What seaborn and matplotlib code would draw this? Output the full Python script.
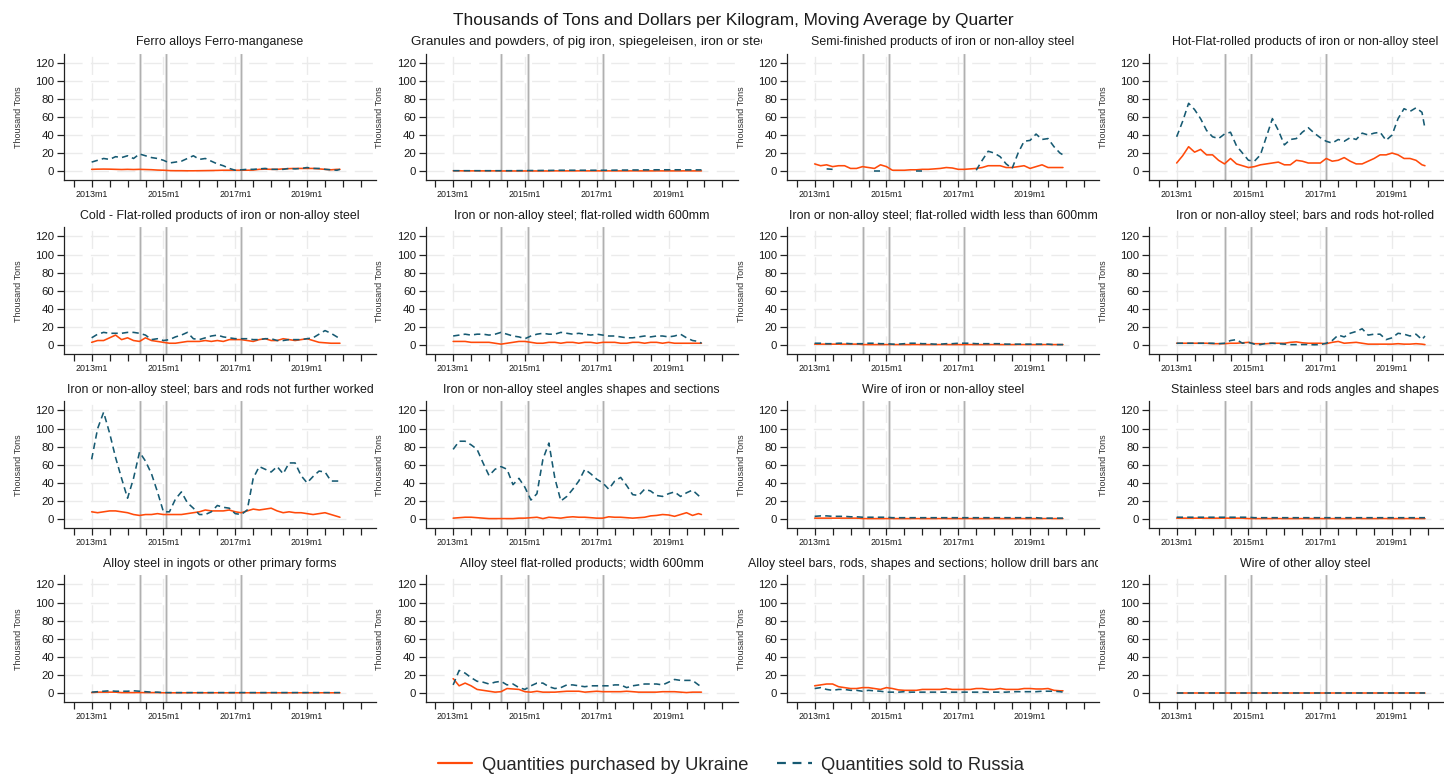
import numpy as np
import pandas as pd
import matplotlib
matplotlib.use("Agg")
import matplotlib.pyplot as plt
from matplotlib.lines import Line2D
from matplotlib.transforms import Bbox, TransformedBbox
import seaborn as sns

sns.set_theme(style="white")
plt.rcParams["font.family"] = ["Liberation Sans", "DejaVu Sans"]

# Observation months (offset from 2013m1): every second month, plus 2019m12
month_offsets = list(range(0, 84, 2)) + [83]

titles = [
    "Ferro alloys Ferro-manganese",
    "Granules and powders, of pig iron, spiegeleisen, iron or steel",
    "Semi-finished products of iron or non-alloy steel",
    "Hot-Flat-rolled products of iron or non-alloy steel",
    "Cold - Flat-rolled products of iron or non-alloy steel",
    "Iron or non-alloy steel; flat-rolled width 600mm",
    "Iron or non-alloy steel; flat-rolled width less than 600mm",
    "Iron or non-alloy steel; bars and rods hot-rolled",
    "Iron or non-alloy steel; bars and rods not further worked",
    "Iron or non-alloy steel angles shapes and sections",
    "Wire of iron or non-alloy steel",
    "Stainless steel bars and rods angles and shapes",
    "Alloy steel in ingots or other primary forms",
    "Alloy steel flat-rolled products; width 600mm",
    "Alloy steel bars, rods, shapes and sections; hollow drill bars and rods",
    "Wire of other alloy steel",
]
# titles too long for their box: start at the box's left edge and are cut at its right edge
long_titles = {1, 14}

nan = np.nan

# Thousand tons, quarterly moving average (one row per year, last value = 2019m12)
ukr_ferro_mn = [2, 2.2, 2.3, 2.2, 2, 1.8,  2, 1.8, 2, 1.8, 1.6, 1.2,  1, .6, .5, .5, .4, .4,
                .5, .6, .7, .8, 1, 1,  1, 1, 1, 1.2, 2, 2.2,  2, 2, 2.5, 2.8, 3, 3,  3, 3, 2.5, 2, 1.5, 2,  2]
rus_ferro_mn = [10, 12, 14, 13, 16, 15,  17, 14, 19, 17, 15, 14,  12, 9, 10, 11, 14, 17,
                13, 14, 11, 8, 6, 3,  1, 1.5, 2, 2, 2.5, 3,  2, 2, 2, 3, 2.5, 3,  4, 3, 3, 2, 1.5, 1,  2]

ukr_granules = [.4, .4, .3, .3, .3, .3,  .3, .3, .2, .2, .2, .2,  .2, .2, .2, .2, .2, .3,
                .3, .3, .3, .3, .3, .3,  .3, .3, .3, .3, .3, .3,  .3, .3, .3, .3, .3, .3,  .3, .3, .3, .3, .3, .3,  .3]
rus_granules = [.5, .5, .5, .5, .5, .5,  .5, .5, .5, .5, .5, .6,  .6, .7, .7, .8, .8, .9,
                1, 1, 1, 1, 1, 1,  1, 1, 1, 1.1, 1.2, 1.2,  1.3, 1.3, 1.4, 1.4, 1.5, 1.5,  1.5, 1.5, 1.5, 1.4, 1.4, 1.4,  1.4]

ukr_semi = [8, 6, 7, 5, 6, 6,  3, 3, 5, 4, 3, 7,  5, 1, 1, 1, 1.5, 1.5,
            2, 2, 2.5, 3, 4, 3.5,  2, 2, 2.5, 3, 4, 6,  6, 6, 4, 4, 5, 6,  3, 5, 7, 4, 4, 4,  4]
rus_semi = [nan, nan, 2.5, 2, nan, nan,  nan, nan, nan, nan, .3, .3,  nan, nan, nan, nan, nan, .5,
            .5, nan, nan, nan, nan, nan,  nan, nan, nan, 1, 12, 22,  20, 16, 8, 3, 20, 33,  34, 41, 35, 36, 27, 20,  18]

ukr_hot_flat = [9, 17, 27, 21, 24, 18,  18, 12, 8, 14, 8, 6,  4, 5, 7, 8, 9, 10,
                7, 7, 12, 11, 9, 9,  9, 14, 11, 12, 15, 11,  8, 8, 11, 14, 18, 18,  20, 18, 14, 14, 12, 7,  6]
rus_hot_flat = [38, 55, 75, 68, 58, 45,  38, 36, 41, 43, 28, 20,  12, 11, 18, 38, 58, 45,
                29, 35, 36, 43, 48, 42,  37, 33, 31, 35, 33, 37,  35, 42, 40, 42, 43, 34,  40, 58, 69, 66, 70, 65,  47]

ukr_cold_flat = [3, 5, 5, 8, 11, 6,  8, 5, 4, 8, 5, 4,  3, 2, 2, 3, 4, 4,
                 4, 5, 4, 5, 4, 6,  6, 6, 5, 4, 6, 7,  5, 5, 7, 6, 5, 6,  7, 5, 3, 2.5, 2, 2,  2]
rus_cold_flat = [8, 12, 14, 13, 13, 13,  14, 14, 13, 11, 6, 7,  5, 6, 9, 11, 14, 7,
                 6, 8, 10, 11, 9, 8,  7, 7, 7, 6, 6, 7,  7, 5, 5, 6, 6, 6,  7, 8, 12, 16, 13, 9,  7]

ukr_flat_600 = [4, 4, 4, 3, 3, 3,  3, 2, 1, 2, 3, 4,  4, 3, 2, 2, 3, 3,
                2, 3, 3, 2, 3, 3,  2, 3, 3, 3, 2, 2,  3, 3, 2, 3, 3, 2,  3, 2, 2, 2, 2, 2,  2]
rus_flat_600 = [10, 11, 12, 11, 12, 12,  11, 12, 14, 12, 10, 9,  7, 10, 12, 13, 12, 12,
                14, 13, 12, 13, 12, 11,  12, 11, 10, 10, 9, 8,  8, 9, 10, 9, 10, 10,  9, 10, 12, 8, 5, 4,  2]

ukr_flat_lt600 = [1, 1, 1, 1, 1, 1,  1, 1, .5, .5, .5, .5,  .5, .5, .5, .5, .5, .5,
                  .5, .5, .5, .5, .5, .5,  .5, .5, .5, .5, .5, .5,  .5, .5, .5, .5, .5, .5,  .5, .5, .5, .5, .5, .5,  .5]
rus_flat_lt600 = [2, 2, 1.5, 1.5, 2, 2,  1.5, 1.5, 1.5, 2, 2, 1.5,  1.5, 1, 1, 1.5, 2, 2,
                  1.5, 1.5, 1, 1, 1.5, 1.5,  2, 2, 2, 1.5, 1.5, 1.5,  1.5, 1.5, 1, 1, 1, 1,  1, 1, 1, 1, .5, .5,  .5]

ukr_bars_hot = [2, 2, 2, 2, 2, 2,  1.5, 1.5, 1.5, 2, 2, 2.5,  3, 1.5, 1.5, 1.5, 2, 2,
                2, 3, 3.5, 2.5, 2, 2,  2, 1.5, 3, 4, 2, 2.5,  3, 2, 1, 1, 1, 1,  1, 1.5, 1, 1, 1.5, 1,  .5]
rus_bars_hot = [2, 2, 2, 2, 2, 2,  2, 1.5, 2, 5, 6, 2,  3, 1, .5, 2, 2, 1.5,
                1, .5, .5, .5, .5, .3,  .5, 2, 5, 11, 9, 13,  15, 18, 11, 12, 12, 6,  8, 13, 12, 10, 12, 6,  10]

ukr_bars_nfw = [8, 7, 8, 9, 9, 8,  7, 5, 4, 5, 5, 6,  5, 5, 5, 5, 6, 7,
                8, 10, 9, 9, 9, 10,  8, 7, 9, 11, 10, 11,  12, 9, 7, 8, 7, 7,  6, 5, 6, 7, 5, 3,  2]
rus_bars_nfw = [66, 100, 118, 95, 68, 45,  23, 45, 74, 64, 50, 30,  8, 8, 22, 30, 18, 12,
                5, 5, 8, 15, 13, 12,  6, 5, 10, 45, 58, 55,  52, 58, 50, 62, 62, 48,  40, 47, 53, 52, 42, 42,  42]

ukr_angles = [1, 1.5, 2, 2, 1.5, 1,  .5, .5, .5, .5, .5, 1,  1, 1.5, 2, .5, 2, 1.5,
              1, 2, 2.5, 2, 2, 1.5,  1, 1, 2.5, 2, 2, 1.5,  1, 1.5, 2, 3.5, 4, 5,  4.5, 3, 5, 7, 4, 6,  5]
rus_angles = [77, 86, 86, 82, 77, 62,  48, 55, 58, 55, 38, 45,  35, 21, 28, 66, 84, 45,
              20, 25, 33, 42, 55, 50,  44, 40, 33, 42, 46, 37,  27, 26, 33, 31, 26, 25,  28, 30, 25, 29, 32, 26,  23]

ukr_wire = [1, 1, 1, 1, 1, 1,  1, 1, .5, .5, .5, .5,  .5, .5, .5, .5, .5, .5,
            .5, .5, .5, .5, .5, .5,  .5, .5, .5, .5, .5, .5,  .5, .5, .5, .5, .5, .5,  .5, .5, .5, .5, .5, .5,  .5]
rus_wire = [3, 3.5, 3.5, 3, 3, 3,  2.5, 2.5, 2, 2, 2, 2,  2, 1.5, 1.5, 1.5, 1.5, 1.5,
            1.5, 1.5, 1.5, 1.5, 1.5, 1.5,  1.5, 1.5, 1.5, 1.5, 1.5, 1.5,  1.5, 1.5, 1.5, 1.5, 1.5, 1.5,  1.5, 1.5, 1, 1, 1, 1,  1]

ukr_stainless = [1, 1, 1, 1, 1, 1,  1, 1, 1, 1, 1, 1,  .5, .5, .5, .5, .5, .5,
                 .5, .5, .5, .5, .5, .5,  .5, .5, .5, .5, .5, .5,  .5, .5, .5, .5, .5, .5,  .5, .5, .5, .5, .5, .5,  .5]
rus_stainless = [2, 2, 2, 2, 2, 2,  2, 2, 2, 2, 2, 2,  2, 1.5, 1.5, 1.5, 1.5, 1.5,
                 1.5, 1.5, 1.5, 1.5, 1.5, 1.5,  1.5, 1.5, 1.5, 1.5, 1.5, 1.5,  1.5, 1.5, 1.5, 1.5, 1.5, 1.5,  1.5, 1.5, 1.5, 1.5, 1.5, 1.5,  1.5]

ukr_alloy_ingots = [.5, 1, 1, 1, 1, .5,  .5, .5, .5, .5, .5, .5,  .3, .3, .3, .3, .3, .3,
                    .3, .3, .3, .3, .3, .3,  .3, .3, .3, .3, .3, .3,  .3, .3, .3, .3, .3, .3,  .3, .3, .3, .3, .3, .3,  .3]
rus_alloy_ingots = [1, 1.5, 2, 2.5, 2, 2,  2, 2.5, 2, 1.5, 1, 1,  .5, .5, .5, .5, .5, .5,
                    .5, .5, .5, .5, .5, .5,  .5, .5, .5, .5, .5, .5,  .5, .5, .5, .5, .5, .5,  .5, .5, .5, .5, .5, .5,  .5]

ukr_alloy_flat = [16, 8, 11, 8, 4, 3,  2, 1, 1.5, 5, 4.5, 4,  1.5, 1, 2, 1, 1, 1,
                  1.5, 2, 2, 2, 1, 1.5,  2, 1.5, 1.5, 1.5, 1.5, 2,  1.5, 1, 1, 1, 1, 1.5,  1.5, 1.5, 1, .5, 1, 1,  1]
rus_alloy_flat = [9, 25, 22, 17, 13, 12,  10, 12, 13, 9, 10, 6,  4, 8, 11, 11, 7, 5,
                  6, 9, 9, 8, 7, 8,  8, 8, 8, 9, 9, 6,  8, 9, 10, 10, 10, 9,  12, 15, 14, 14, 14, 9,  7]

ukr_alloy_bars = [8, 9, 10, 10, 7, 6,  5, 5, 6, 6, 5, 4,  6, 5, 3.5, 3, 3, 3,
                  4, 4, 4, 4, 5, 4,  4, 4, 4, 5, 5, 4,  4, 5, 4, 4, 4, 5,  5, 4.5, 4.5, 5, 3, 2.5,  2.5]
rus_alloy_bars = [5, 6, 4, 3, 4, 4,  3, 3, 2, 3, 2.5, 2,  1, 1, 1, 1.5, 1, 1,
                  1, 1, 1, 1, 1, 1,  1, 1, 1, 1, 1, 1,  1, 1, 1, 1.5, 1.5, 1.5,  1.5, 1.5, 2, 2, 2, 1.5,  1]

ukr_wire_alloy = [.3, .3, .3, .3, .3, .3,  .3, .3, .3, .3, .3, .3,  .3, .3, .3, .3, .3, .3,
                  .3, .3, .3, .3, .3, .3,  .3, .3, .3, .3, .3, .3,  .3, .3, .3, .3, .3, .3,  .3, .3, .3, .3, .3, .3,  .3]
rus_wire_alloy = [.2, .2, .2, .2, .2, .2,  .2, .2, .2, .2, .2, .2,  .2, .2, .2, .2, .2, .2,
                  .2, .2, .2, .2, .2, .2,  .2, .2, .2, .2, .2, .2,  .2, .2, .2, .2, .2, .2,  .2, .2, .2, .2, .2, .2,  .2]

ukraine_series = [ukr_ferro_mn, ukr_granules, ukr_semi, ukr_hot_flat,
                  ukr_cold_flat, ukr_flat_600, ukr_flat_lt600, ukr_bars_hot,
                  ukr_bars_nfw, ukr_angles, ukr_wire, ukr_stainless,
                  ukr_alloy_ingots, ukr_alloy_flat, ukr_alloy_bars, ukr_wire_alloy]
russia_series = [rus_ferro_mn, rus_granules, rus_semi, rus_hot_flat,
                 rus_cold_flat, rus_flat_600, rus_flat_lt600, rus_bars_hot,
                 rus_bars_nfw, rus_angles, rus_wire, rus_stainless,
                 rus_alloy_ingots, rus_alloy_flat, rus_alloy_bars, rus_wire_alloy]

# Event markers (month offsets from 2013m1): 2014m5, 2015m2, 2017m3
event_months = [16, 25, 50]

UKR_LABEL = "Quantities purchased by Ukraine"
RUS_LABEL = "Quantities sold to Russia"
palette = {UKR_LABEL: "#ff4a0a", RUS_LABEL: "#165a72"}
dash_map = {UKR_LABEL: "", RUS_LABEL: (4, 2.6)}


def to_year(m):
    return 2013 + np.asarray(m, dtype=float) / 12.0


def long_frame(ukr, rus):
    frames = []
    for label, vals in ((UKR_LABEL, ukr), (RUS_LABEL, rus)):
        v = np.asarray(vals, dtype=float)
        valid = ~np.isnan(v)
        # separate runs of valid observations so gaps stay open
        seg = np.cumsum(np.r_[True, valid[1:] != valid[:-1]])
        frames.append(pd.DataFrame({
            "date": to_year(month_offsets),
            "value": v,
            "series": label,
            "seg": [f"{label}-{s}" for s in seg],
        })[valid])
    return pd.concat(frames, ignore_index=True)


W, H = 1444, 775
fig = plt.figure(figsize=(W / 100, H / 100), dpi=100)

col_left = [64, 425.5, 787, 1149]
row_top = [53.5, 227.4, 401.4, 575.4]
ax_w, ax_h = 312, 126.7
# title box per column (pixels)
title_box = [(4, 420), (411, 762), (748, 1098), (1090, 1444)]

xticks = np.arange(2012.5, 2021.0, 0.5)
xtick_labels = [f"{int(t)}m1" if (t == int(t) and int(t) % 2 == 1) else "" for t in xticks]

grid_kw = dict(color="#ebebeb", lw=1.0, dashes=(13, 6), zorder=0)

for i, title in enumerate(titles):
    r, c = divmod(i, 4)
    ax = fig.add_axes([col_left[c] / W, 1 - (row_top[r] + ax_h) / H, ax_w / W, ax_h / H])
    ax.set_xlim(2012.23, 2020.92)
    ax.set_ylim(-10, 130)

    for yv in range(0, 121, 20):
        ax.axhline(yv, **grid_kw)
    for xv in (2013, 2015, 2017, 2019):
        ax.axvline(xv, **grid_kw)
    for em in event_months:
        xe = to_year(em)
        ax.axvline(xe, color="#e0e0e0", lw=2.2, zorder=1)
        ax.axvline(xe, color="#b0b0b0", lw=0.8, zorder=1)

    df = long_frame(ukraine_series[i], russia_series[i])
    sns.lineplot(data=df, x="date", y="value", hue="series", style="series",
                 units="seg", estimator=None, palette=palette, dashes=dash_map,
                 linewidth=1.15, legend=False, ax=ax, zorder=3)

    # panel title
    ty = 1 - (row_top[r] - 11) / H
    bl, br = title_box[c]
    if i in long_titles:
        t = fig.text(bl / W, ty, title, ha="left", va="center",
                     fontsize=9.6 if c == 1 else 8.9, color="#1a1a1a")
        clip = TransformedBbox(Bbox([[bl / W, ty - 0.03], [br / W, ty + 0.03]]), fig.transFigure)
        t.set_clip_box(clip)
        t.set_clip_on(True)
    else:
        fig.text((col_left[c] + ax_w / 2) / W, ty, title,
                 ha="center", va="center", fontsize=8.9, color="#1a1a1a")

    ax.set_xlabel("")
    ax.set_ylabel("Thousand Tons", fontsize=6.5, labelpad=9, color="#333333")
    ax.set_yticks(range(0, 121, 20))
    ax.set_xticks(xticks)
    ax.set_xticklabels(xtick_labels)
    ax.tick_params(axis="y", labelsize=8.2, length=5, width=0.9, color="#222222",
                   direction="out", left=True, pad=2, labelcolor="#1a1a1a")
    ax.tick_params(axis="x", labelsize=6.4, length=5, width=0.9, color="#222222",
                   direction="out", bottom=True, pad=2, labelcolor="#1a1a1a")
    for side in ("top", "right"):
        ax.spines[side].set_visible(False)
    for side in ("left", "bottom"):
        ax.spines[side].set_color("#222222")
        ax.spines[side].set_linewidth(0.9)
    ax.grid(False)

fig.text(733 / W, 1 - 20 / H, "Thousands of Tons and Dollars per Kilogram, Moving Average by Quarter",
         ha="center", va="center", fontsize=12.4, color="#1a1a1a")

handles = [Line2D([], [], color=palette[UKR_LABEL], lw=1.6),
           Line2D([], [], color=palette[RUS_LABEL], lw=1.6, dashes=(4, 3))]
fig.legend(handles, [UKR_LABEL, RUS_LABEL], loc="center", bbox_to_anchor=(731 / W, 1 - 765 / H),
           ncol=2, frameon=False, fontsize=13.2, handlelength=1.9, handletextpad=0.5,
           columnspacing=1.6)

fig.savefig("out.png", dpi=100)
